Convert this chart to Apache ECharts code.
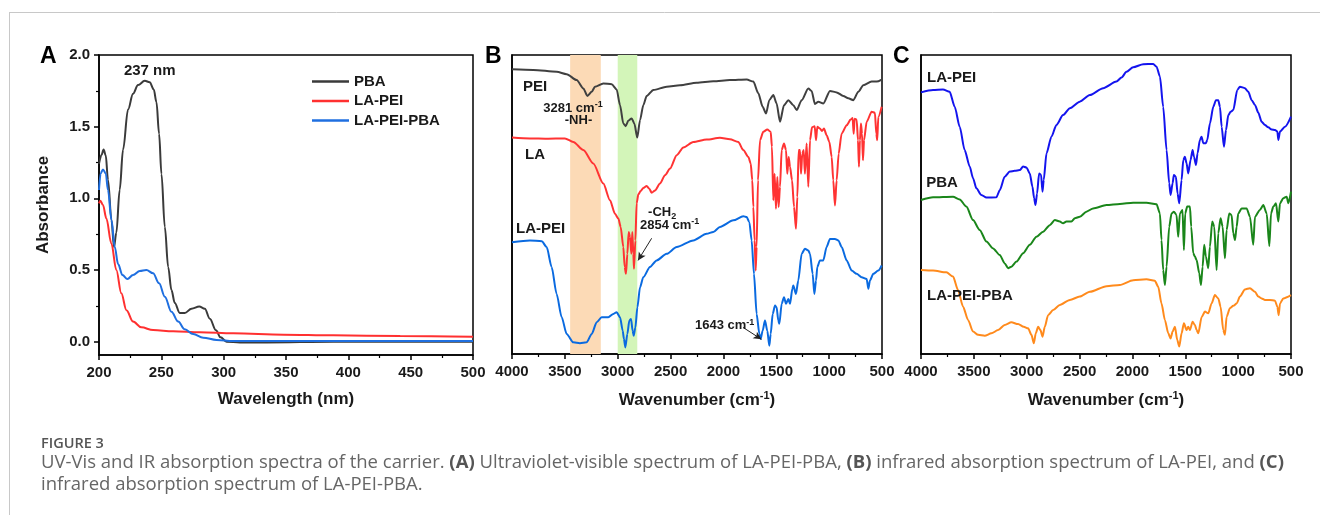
<!DOCTYPE html>
<html><head><meta charset="utf-8">
<script src="https://cdn.jsdelivr.net/npm/echarts/dist/echarts.min.js"></script>
<style>html,body{margin:0;padding:0;background:#fff}#c{width:1320px;height:515px}</style>
</head><body><div id="c"></div>
<script>
// ---------- Panel A: UV-Vis (wavelength nm, absorbance) ----------
const uvTicksX = [200, 250, 300, 350, 400, 450, 500];
const uvTicksY = [0, 0.5, 1.0, 1.5, 2.0];
const uvMinorTicksY = [0.25, 0.75, 1.25, 1.75];
const uvPBA = [[200,1.24],[201.9,1.30],[203.7,1.34],[205.4,1.30],[207.2,1.13],[210,0.85],[212,0.66],[213.9,0.76],[216.6,1.06],[219.3,1.34],[223.3,1.62],[227.3,1.73],[231.3,1.79],[236.7,1.82],[240.7,1.81],[243.9,1.76],[246.1,1.67],[248.2,1.45],[250.1,1.17],[252.8,0.80],[255.5,0.52],[258.1,0.36],[260.8,0.27],[264.8,0.20],[268.8,0.20],[274.2,0.23],[280.4,0.245],[284.9,0.23],[288.9,0.16],[293.8,0.08],[297.5,0.03],[302.3,0.0],[313,-0.005],[334.5,-0.005],[388,0.0],[500,0.0]];
const uvLAPEI = [[200,0.965],[201.1,0.984],[203.2,0.953],[205.9,0.86],[209.9,0.686],[213.9,0.5],[217.9,0.337],[222,0.22],[227.3,0.14],[234,0.10],[243.4,0.081],[259.5,0.072],[280.9,0.065],[307.7,0.058],[347.9,0.049],[388,0.044],[441.6,0.04],[500,0.035]];
const uvLAPEIPBA = [[200,1.058],[201.3,1.174],[203.2,1.202],[205.4,1.174],[207.2,1.058],[210,0.849],[212.6,0.663],[215.3,0.542],[218.8,0.465],[222.8,0.437],[227.3,0.465],[232.7,0.493],[238,0.5],[243.4,0.477],[248.2,0.407],[252.8,0.314],[258.1,0.209],[263.5,0.14],[268.8,0.086],[275.5,0.053],[283.6,0.028],[294.3,0.012],[307.7,0.005],[361.3,0.005],[500,0.005]];

// ---------- Panel B: IR (wavenumber cm-1, relative transmittance, offset) ----------
const irPEI = [[4000,95.2],[3798,95.0],[3577,94.4],[3483,93.6],[3388,91.6],[3325,88.8],[3287,86.3],[3246,87.7],[3215,89.4],[3136,90.5],[3057,90.2],[3010,88.5],[2978,83.2],[2947,77.1],[2925,76.2],[2900,78.0],[2868,78.8],[2843,77.1],[2815,72.4],[2789,78.2],[2758,83.2],[2726,86.3],[2663,88.3],[2537,89.4],[2411,89.9],[2253,90.7],[2096,91.2],[1938,91.6],[1780,91.8],[1717,91.1],[1670,87.2],[1629,82.7],[1597,80.4],[1566,84.9],[1528,86.6],[1497,83.8],[1465,77.7],[1427,83.2],[1386,84.9],[1339,83.2],[1307,81.6],[1260,84.9],[1197,88.8],[1166,88.0],[1134,83.6],[1102,84.4],[1055,83.8],[992,88.0],[929,87.5],[866,86.3],[819,85.5],[771,84.9],[724,87.7],[677,89.9],[598,91.1],[551,91.1],[503,91.8]];
const irLA = [[4000,72.4],[3830,72.1],[3672,72.0],[3499,72.1],[3420,70.9],[3325,68.2],[3231,63.7],[3136,57.0],[3073,51.4],[3026,46.9],[2994,45.3],[2972,42.5],[2947,35.8],[2934,29.1],[2922,26.8],[2909,33.5],[2896,40.8],[2884,39.1],[2871,33.5],[2862,40.8],[2852,33.5],[2846,28.5],[2833,38.0],[2821,50.4],[2805,53.4],[2783,54.5],[2758,55.5],[2726,56.2],[2701,55.3],[2679,53.9],[2647,54.7],[2600,57.0],[2553,59.8],[2505,62.0],[2442,66.5],[2379,69.1],[2285,70.9],[2159,71.7],[2033,72.3],[1938,71.8],[1859,70.9],[1812,68.2],[1764,65.9],[1742,63.7],[1727,58.1],[1717,49.2],[1705,38.0],[1695,27.9],[1686,35.8],[1673,58.1],[1654,71.5],[1623,74.3],[1585,75.1],[1553,74.3],[1541,69.3],[1528,51.4],[1516,60.3],[1503,48.6],[1490,59.2],[1478,49.2],[1465,55.9],[1449,68.2],[1427,70.4],[1408,68.2],[1396,60.3],[1383,65.9],[1370,62.6],[1351,58.1],[1332,49.2],[1314,41.9],[1301,52.5],[1288,68.2],[1276,68.2],[1266,60.3],[1254,67.0],[1241,68.2],[1229,60.3],[1213,70.4],[1197,55.9],[1181,71.5],[1162,75.8],[1137,76.2],[1124,71.5],[1112,76.0],[1087,75.4],[1068,74.6],[1049,75.4],[1024,73.2],[998,70.9],[976,65.9],[961,58.1],[945,49.7],[929,58.1],[910,67.0],[882,73.7],[834,76.5],[797,78.4],[778,78.9],[768,73.7],[759,78.7],[740,78.4],[727,71.5],[718,62.6],[709,71.5],[699,77.1],[689,73.7],[680,64.8],[670,71.5],[645,77.7],[598,81.0],[567,80.7],[554,73.7],[545,71.5],[535,79.3],[503,82.7]];
const irLAPEI = [[4000,37.4],[3830,38.0],[3719,37.7],[3672,35.8],[3625,29.1],[3578,20.1],[3530,12.3],[3483,6.7],[3420,3.9],[3357,3.6],[3294,3.9],[3246,6.7],[3199,10.6],[3152,12.3],[3089,12.3],[3041,13.4],[3010,14.0],[2978,12.3],[2953,7.8],[2941,5.0],[2928,2.2],[2909,6.7],[2890,11.2],[2874,11.7],[2859,7.8],[2849,6.1],[2833,8.9],[2814,15.6],[2789,22.3],[2758,25.7],[2695,29.1],[2632,31.3],[2537,33.5],[2442,35.8],[2285,38.0],[2159,40.2],[2096,40.8],[2033,42.5],[1906,44.7],[1812,46.1],[1780,45.8],[1755,44.1],[1733,38.0],[1711,26.8],[1686,13.4],[1660,6.7],[1648,5.0],[1629,7.8],[1607,11.2],[1585,7.8],[1566,2.8],[1553,6.7],[1534,13.4],[1512,16.2],[1497,15.6],[1481,11.2],[1471,10.1],[1449,16.8],[1427,19.0],[1408,16.8],[1386,18.4],[1370,16.8],[1348,21.8],[1339,22.9],[1314,20.1],[1292,24.6],[1260,33.5],[1229,35.2],[1197,34.6],[1181,33.5],[1156,26.8],[1140,20.1],[1124,24.6],[1112,29.1],[1087,31.3],[1055,31.3],[1024,35.8],[992,38.5],[945,38.5],[913,38.0],[882,35.8],[834,31.3],[787,27.9],[740,26.8],[693,25.7],[645,25.1],[629,21.8],[614,24.6],[582,26.8],[535,27.9],[503,29.6]];
const bandNH = [3450, 3160];
const bandCH = [3000, 2815];

// ---------- Panel C: IR ----------
const irC_LAPEI = [[4000,87.5],[3886,88.3],[3792,88.5],[3729,87.7],[3681,82.7],[3634,76.0],[3587,68.2],[3539,62.7],[3508,58.8],[3476,55.4],[3429,53.2],[3381,52.3],[3287,52.4],[3255,54.8],[3208,59.3],[3160,61.0],[3113,61.3],[3066,61.5],[3034,62.7],[3003,62.4],[2971,60.4],[2946,56.0],[2930,52.1],[2917,49.8],[2902,53.7],[2883,60.4],[2864,59.9],[2851,54.3],[2839,58.2],[2813,67.1],[2766,72.7],[2719,76.6],[2656,79.9],[2592,82.2],[2498,84.4],[2403,86.6],[2277,88.9],[2151,91.1],[2103,92.5],[2056,94.4],[1993,95.9],[1898,96.9],[1803,97.0],[1772,96.1],[1740,92.8],[1709,82.7],[1677,68.2],[1652,57.1],[1639,53.2],[1620,57.1],[1608,59.9],[1589,59.3],[1573,53.7],[1557,50.4],[1535,58.2],[1519,64.9],[1504,66.0],[1488,63.8],[1472,60.4],[1450,64.9],[1431,68.2],[1418,66.0],[1399,63.2],[1384,67.1],[1362,71.6],[1346,72.7],[1330,70.5],[1305,70.5],[1292,71.6],[1267,77.1],[1235,82.7],[1210,84.9],[1188,84.9],[1172,82.7],[1156,76.0],[1134,69.3],[1115,74.9],[1093,79.9],[1071,81.0],[1046,81.6],[1008,88.3],[983,89.4],[936,88.9],[904,87.7],[872,84.9],[841,83.3],[809,80.7],[778,77.7],[746,76.6],[715,75.8],[683,75.1],[651,74.9],[629,74.4],[620,71.6],[604,74.4],[557,76.0],[500,79.4]];
const irC_PBA = [[4000,51.5],[3886,52.4],[3697,52.6],[3634,51.7],[3571,49.3],[3508,44.8],[3445,41.5],[3381,37.6],[3318,35.3],[3255,33.1],[3208,30.3],[3176,28.7],[3145,29.2],[3097,30.9],[3034,33.7],[2971,36.5],[2908,39.2],[2845,40.9],[2782,43.1],[2734,44.8],[2687,44.3],[2656,43.7],[2624,44.3],[2577,44.3],[2545,45.4],[2498,45.9],[2435,47.6],[2372,48.7],[2245,49.8],[2119,50.2],[1993,50.6],[1867,50.6],[1772,50.1],[1740,47.0],[1725,38.1],[1709,28.1],[1693,23.1],[1677,29.2],[1652,42.6],[1630,47.0],[1608,47.6],[1583,46.5],[1567,39.2],[1551,47.0],[1526,48.2],[1513,34.8],[1501,47.0],[1482,49.3],[1456,49.3],[1444,42.6],[1425,33.7],[1409,32.6],[1393,31.4],[1368,27.0],[1352,23.1],[1336,29.2],[1321,36.5],[1305,32.6],[1283,28.7],[1267,35.9],[1245,44.3],[1226,42.6],[1204,28.1],[1188,40.4],[1166,45.4],[1147,42.6],[1125,32.0],[1109,41.5],[1084,47.0],[1062,46.5],[1046,40.4],[1030,38.1],[1014,42.6],[999,47.0],[967,48.7],[920,48.7],[888,45.9],[857,36.5],[841,45.9],[794,48.2],[762,49.8],[730,47.0],[705,36.1],[689,47.0],[667,49.3],[642,50.4],[620,44.3],[604,50.4],[573,52.1],[541,52.6],[525,50.4],[500,54.3]];
const irC_LAPEIPBA = [[4000,28.1],[3886,27.9],[3760,27.3],[3697,25.9],[3650,21.4],[3602,15.8],[3555,11.4],[3508,7.5],[3460,6.4],[3397,6.1],[3334,6.9],[3271,8.0],[3208,9.7],[3145,10.6],[3082,10.0],[3028,9.1],[2987,8.6],[2955,6.4],[2933,3.6],[2914,6.9],[2892,9.1],[2870,8.0],[2851,5.8],[2829,9.1],[2798,13.0],[2750,14.7],[2687,16.4],[2592,18.1],[2498,19.2],[2403,20.8],[2245,22.7],[2119,23.1],[1993,24.7],[1867,25.0],[1788,24.5],[1756,22.5],[1725,16.9],[1693,11.4],[1661,6.9],[1639,5.2],[1620,7.5],[1598,9.1],[1576,4.7],[1557,2.5],[1535,6.9],[1513,10.3],[1488,8.0],[1472,9.1],[1456,8.0],[1431,10.8],[1409,9.7],[1393,8.0],[1377,6.9],[1346,12.3],[1314,14.2],[1283,13.6],[1251,16.9],[1220,19.7],[1188,18.6],[1166,15.8],[1141,8.0],[1125,6.4],[1109,12.5],[1078,15.3],[1046,16.1],[1014,16.9],[983,19.2],[936,21.6],[888,22.0],[841,20.8],[809,19.2],[778,18.6],[746,18.1],[699,18.1],[651,17.8],[629,15.8],[617,13.0],[604,16.9],[573,18.6],[500,19.7]];

const captionTitle = 'FIGURE 3';
const captionLine1 = 'UV-Vis and IR absorption spectra of the carrier. {b|(A)} Ultraviolet-visible spectrum of LA-PEI-PBA, {b|(B)} infrared absorption spectrum of LA-PEI, and {b|(C)}';
const captionLine2 = 'infrared absorption spectrum of LA-PEI-PBA.';

const FONT = "'Liberation Sans', Arial, Helvetica, sans-serif";
const INK = '#1a1a1a';
const chart = echarts.init(document.getElementById('c'), null, {renderer: 'canvas', width: 1320, height: 515});

const gridBox = {show: true, borderColor: '#000', borderWidth: 1.5, backgroundColor: 'transparent', containLabel: false};
const tickLabel = {fontSize: 15, fontWeight: 'bold', color: INK, fontFamily: FONT};
const nameStyle = {fontSize: 17, fontWeight: 'bold', color: INK, fontFamily: FONT};
const wnName = {
  rich: {
    n: {fontSize: 17, fontWeight: 'bold', color: INK, fontFamily: FONT, lineHeight: 20},
    s: {fontSize: 11, fontWeight: 'bold', color: INK, fontFamily: FONT, verticalAlign: 'top', lineHeight: 12}
  }
};
const plain = v => String(v);
function irX(gi) {
  return {
    gridIndex: gi, type: 'value', min: 500, max: 4000, interval: 500, inverse: true,
    axisLine: {show: true, onZero: false, lineStyle: {color: '#000', width: 1.5}},
    axisTick: {show: true, length: 5, lineStyle: {color: '#000', width: 1.5}},
    minorTick: {show: true, splitNumber: 2, length: 3, lineStyle: {color: '#000', width: 1.2}},
    splitLine: {show: false}, minorSplitLine: {show: false},
    axisLabel: Object.assign({margin: 10, formatter: plain}, tickLabel),
    name: '{n|Wavenumber (cm}{s|-1}{n|)}', nameLocation: 'middle', nameGap: 36,
    nameTextStyle: wnName
  };
}
function irY(gi) {
  return {
    gridIndex: gi, type: 'value', min: 0, max: 100, position: 'left',
    axisLine: {show: true, onZero: false, lineStyle: {color: '#000', width: 1.5}},
    axisTick: {show: false}, axisLabel: {show: false}, splitLine: {show: false}
  };
}
function line(name, data, color, xi, yi, extra) {
  return Object.assign({
    name, type: 'line', data, xAxisIndex: xi, yAxisIndex: yi,
    showSymbol: false, symbol: 'none', smooth: 0.25, smoothMonotone: 'x',
    lineStyle: {color, width: 2}, itemStyle: {color}, z: 3, silent: true
  }, extra || {});
}

const option = {
  animation: false,
  backgroundColor: '#fff',
  textStyle: {fontFamily: FONT},
  grid: [
    Object.assign({left: 99, top: 55, width: 374, height: 300}, gridBox),
    Object.assign({left: 512, top: 55, width: 370, height: 299}, gridBox),
    Object.assign({left: 921, top: 55, width: 370, height: 299}, gridBox)
  ],
  legend: {
    data: ['PBA', 'LA-PEI', 'LA-PEI-PBA'], orient: 'vertical', left: 312, top: 74, padding: 0,
    icon: 'rect', itemWidth: 37, itemHeight: 2.5, itemGap: 4.5, selectedMode: false,
    textStyle: {fontSize: 15, fontWeight: 'bold', color: INK, fontFamily: FONT, lineHeight: 15}
  },
  xAxis: [
    {
      gridIndex: 0, type: 'value', min: 200, max: 500, interval: 50,
      axisLine: {show: true, onZero: false, lineStyle: {color: '#000', width: 1.5}},
      axisTick: {show: true, length: 5, lineStyle: {color: '#000', width: 1.5}},
      minorTick: {show: true, splitNumber: 2, length: 3, lineStyle: {color: '#000', width: 1.2}},
      splitLine: {show: false}, minorSplitLine: {show: false},
      axisLabel: Object.assign({margin: 10, formatter: plain}, tickLabel),
      name: 'Wavelength (nm)', nameLocation: 'middle', nameGap: 36, nameTextStyle: nameStyle
    },
    irX(1), irX(2)
  ],
  yAxis: [
    {
      gridIndex: 0, type: 'value', min: -0.093, max: 2.0, position: 'left',
      axisLine: {show: true, onZero: false, lineStyle: {color: '#000', width: 1.5}},
      axisTick: {show: true, length: 5, customValues: uvTicksY, lineStyle: {color: '#000', width: 1.5}},
      axisLabel: Object.assign({margin: 9, customValues: uvTicksY, formatter: v => Number(v).toFixed(1)}, tickLabel),
      splitLine: {show: false},
      name: 'Absorbance', nameLocation: 'middle', nameRotate: 90, nameGap: 47, nameTextStyle: nameStyle
    },
    {
      gridIndex: 0, type: 'value', min: -0.093, max: 2.0, position: 'left', offset: 0,
      axisLine: {show: false},
      axisTick: {show: true, length: 3, customValues: uvMinorTicksY, lineStyle: {color: '#000', width: 1.2}},
      axisLabel: {show: false}, splitLine: {show: false}
    },
    irY(1), irY(2)
  ],
  series: [
    line('PBA', uvPBA, '#3a3a3a', 0, 0, {smooth: 0.35}),
    line('LA-PEI', uvLAPEI, '#ff3030', 0, 0, {smooth: 0.35}),
    line('LA-PEI-PBA', uvLAPEIPBA, '#1f6fe0', 0, 0, {smooth: 0.35}),
    {
      name: 'bands', type: 'line', xAxisIndex: 1, yAxisIndex: 2, data: [], z: 1, silent: true,
      markArea: {
        silent: true,
        data: [
          [{xAxis: bandNH[0], itemStyle: {color: '#fcdab6'}}, {xAxis: bandNH[1]}],
          [{xAxis: bandCH[0], itemStyle: {color: '#d3f5b9'}}, {xAxis: bandCH[1]}]
        ]
      }
    },
    line('IR PEI', irPEI, '#404040', 1, 2),
    line('IR LA', irLA, '#ff3333', 1, 2),
    line('IR LA-PEI', irLAPEI, '#0a6ae0', 1, 2, {
      markLine: {
        silent: true, symbol: ['none', 'arrow'], symbolSize: [6, 8],
        lineStyle: {color: '#222', width: 1, type: 'solid'}, label: {show: false},
        data: [
          [{coord: [2679, 38.7]}, {coord: [2808, 31.3]}],
          [{coord: [1815, 8.9]}, {coord: [1640, 4.9]}]
        ]
      }
    }),
    line('IR C LA-PEI', irC_LAPEI, '#1414ee', 2, 3),
    line('IR C PBA', irC_PBA, '#1a861a', 2, 3),
    line('IR C LA-PEI-PBA', irC_LAPEIPBA, '#ff8a1c', 2, 3)
  ]
};
chart.setOption(option);

// ---------- text annotations (positioned in data space) ----------
const bold = (s) => ({fontSize: s, fontWeight: 'bold', fill: INK, fontFamily: FONT});
const supRich = {
  a: {fontSize: 13, fontWeight: 'bold', fill: INK, color: INK, fontFamily: FONT, lineHeight: 16},
  s: {fontSize: 9, fontWeight: 'bold', fill: INK, color: INK, fontFamily: FONT, verticalAlign: 'top', lineHeight: 9},
  b: {fontSize: 9, fontWeight: 'bold', fill: INK, color: INK, fontFamily: FONT, verticalAlign: 'bottom', lineHeight: 9}
};
const notes = [
  {f: [0, 0], p: [240.7, 1.888], t: '237 nm', size: 15, align: 'center'},
  {f: [1, 2], p: [3896, 89.4], t: 'PEI', size: 15, align: 'left'},
  {f: [1, 2], p: [3423, 82.2], t: '{a|3281 cm}{s|-1}', rich: true, align: 'center'},
  {f: [1, 2], p: [3371, 78.2], t: '-NH-', size: 13, align: 'center'},
  {f: [1, 2], p: [3877, 66.5], t: 'LA', size: 15, align: 'left'},
  {f: [1, 2], p: [3962, 41.9], t: 'LA-PEI', size: 15, align: 'left'},
  {f: [1, 2], p: [2713, 47.2], t: '{a|-CH}{b|2}', rich: true, align: 'left'},
  {f: [1, 2], p: [2789, 43.0], t: '{a|2854 cm}{s|-1}', rich: true, align: 'left'},
  {f: [1, 2], p: [2269, 9.5], t: '{a|1643 cm}{s|-1}', rich: true, align: 'left'},
  {f: [2, 3], p: [3943, 92.2], t: 'LA-PEI', size: 15, align: 'left'},
  {f: [2, 3], p: [3950, 57.1], t: 'PBA', size: 15, align: 'left'},
  {f: [2, 3], p: [3943, 19.4], t: 'LA-PEI-PBA', size: 15, align: 'left'}
];
const graphics = [];
notes.forEach(n => {
  const xy = chart.convertToPixel({xAxisIndex: n.f[0], yAxisIndex: n.f[1]}, n.p);
  const style = n.rich
    ? {text: n.t, rich: supRich, align: n.align, verticalAlign: 'middle'}
    : Object.assign({text: n.t, align: n.align, verticalAlign: 'middle'}, bold(n.size));
  graphics.push({type: 'text', x: xy[0], y: xy[1], silent: true, z: 10, style});
});
// panel letters
[['A', 40, 57], ['B', 485, 57], ['C', 893, 57]].forEach(l => {
  graphics.push({type: 'text', x: l[1], y: l[2], silent: true, style: Object.assign({text: l[0], align: 'left', verticalAlign: 'middle'}, bold(23), {fill: '#000'})});
});
// page frame lines
graphics.push({type: 'line', silent: true, shape: {x1: 9, y1: 12.5, x2: 1320, y2: 12.5}, style: {stroke: '#c8c8c8', lineWidth: 1}});
graphics.push({type: 'line', silent: true, shape: {x1: 9.5, y1: 12, x2: 9.5, y2: 515}, style: {stroke: '#c8c8c8', lineWidth: 1}});
// caption
const CAP = "'Open Sans', 'Noto Sans', sans-serif";
graphics.push({type: 'text', x: 41, y: 444, silent: true, style: {text: captionTitle, fontSize: 14.5, fontWeight: 600, fill: '#555', fontFamily: CAP, verticalAlign: 'middle'}});
graphics.push({type: 'text', x: 41, y: 463, silent: true, style: {text: captionLine1, fontSize: 18.5, fill: '#666', fontFamily: CAP, verticalAlign: 'middle',
  rich: {b: {fontSize: 18.5, fontWeight: 'bold', fill: '#555', color: '#555', fontFamily: CAP}}}});
graphics.push({type: 'text', x: 41, y: 485, silent: true, style: {text: captionLine2, fontSize: 18.5, fill: '#666', fontFamily: CAP, verticalAlign: 'middle'}});
chart.setOption({graphic: graphics});
</script></body></html>
